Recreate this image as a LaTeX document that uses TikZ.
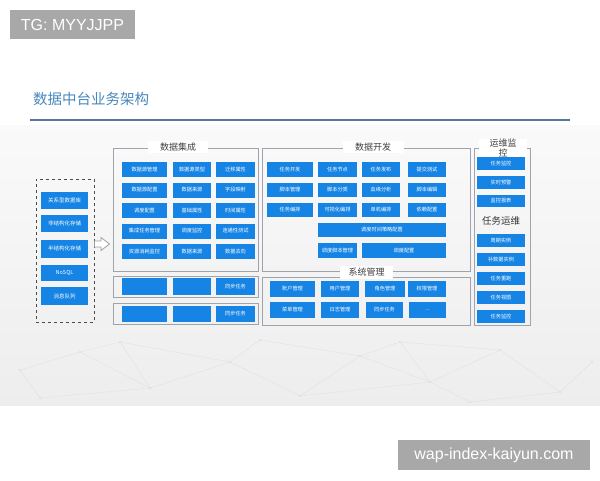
\documentclass[tikz,border=0pt]{standalone}
\usepackage{fontspec}
\setmainfont{Liberation Sans}
\newfontfamily\cjk{Noto Sans CJK SC}
\definecolor{itemblue}{RGB}{22,132,228}
\definecolor{framegray}{RGB}{158,163,172}
\definecolor{titleblue}{RGB}{72,135,188}
\definecolor{ruleblue}{RGB}{85,120,160}
\definecolor{badgegray}{RGB}{168,168,168}
\definecolor{netgray}{RGB}{222,224,228}
\newcommand\bx[6]{\node[item, minimum width=#4, minimum height=#5] (#1) at (#2,#3) {#6};}
\begin{document}
\begin{tikzpicture}[x=1pt,y=-1pt,
  item/.style={fill=itemblue, text=white, inner sep=0pt, font=\cjk\fontsize{5.2}{6}\selectfont},
  frame/.style={draw=framegray, line width=0.8pt, inner sep=0pt},
  sectitle/.style={fill=white, inner sep=0pt, text=black!75, font=\cjk\fontsize{9}{10}\selectfont},
  badge/.style={fill=badgegray, text=white, inner sep=0pt, font=\fontsize{16}{18}\selectfont},
  net/.style={draw=netgray, line width=0.35pt}]
\useasboundingbox (0,0) rectangle (600,480);
\fill[white] (0,0) rectangle (600,480);
% background band
\shade[top color=gray!4, bottom color=gray!14] (0,125) rectangle (600,405);
% faint network texture
\foreach \a/\b in {20/370, 80/352, 150/388, 230/362, 300/396, 360/356, 430/382, 500/350, 560/392, 592/362, 120/342, 400/342, 260/340, 40/398, 470/402}
  \fill[netgray] (\a,\b) circle (1.1);
\draw[net] (20,370)--(80,352)--(150,388)--(230,362)--(300,396)--(360,356)--(430,382)--(500,350)--(560,392)--(592,362);
\draw[net] (80,352)--(120,342)--(230,362)--(260,340)--(360,356)--(400,342)--(500,350);
\draw[net] (40,398)--(150,388) (300,396)--(430,382)--(470,402)--(560,392) (20,370)--(40,398) (120,342)--(150,388) (400,342)--(430,382);

% badges
\node[badge, minimum width=125, minimum height=29] (tg) at (72.5,24.5) {TG: MYYJJPP};
\node[badge, minimum width=192, minimum height=30] (wm) at (494,455) {wap-index-kaiyun.com};

% title
\node[anchor=west, inner sep=0pt, text=titleblue, font=\cjk\fontsize{14.5}{16}\selectfont] (title) at (33,99) {数据中台业务架构};
\coordinate (rl) at (30,120);
\coordinate (rr) at (570,120);
\draw[ruleblue, line width=1.5pt] (rl) -- (rr);

% sources
\node[draw=gray!60!black, dashed, line width=0.7pt, inner sep=0pt, minimum width=58, minimum height=143] (src) at (65,250.5) {};
\node[item, minimum width=47, minimum height=17, font=\cjk\fontsize{5.5}{6}\selectfont] (s1) at (64.5,200.5) {关系型数据库};
\node[item, minimum width=47, minimum height=17, font=\cjk\fontsize{5.5}{6}\selectfont] (s2) at (64.5,223) {非结构化存储};
\node[item, minimum width=47, minimum height=18, font=\cjk\fontsize{5.5}{6}\selectfont] (s3) at (64.5,248.5) {半结构化存储};
\node[item, minimum width=47, minimum height=16, font=\cjk\fontsize{5.5}{6}\selectfont] (s4) at (64.5,272.5) {NoSQL};
\node[item, minimum width=47, minimum height=18, font=\cjk\fontsize{5.5}{6}\selectfont] (s5) at (64.5,296) {消息队列};

% hollow arrow
\draw[draw=gray!75, fill=white, line width=0.8pt] (94.5,241) -- (101,241) -- (101,237.5) -- (109.5,244) -- (101,250.5) -- (101,247) -- (94.5,247) -- cycle;

% 数据集成
\node[frame, minimum width=145, minimum height=123] (jc) at (185.5,209.5) {};
\node[sectitle, minimum width=60, minimum height=12] (jct) at (178,147) {数据集成};
\bx{j11}{144.5}{169.5}{45}{15}{数据源管理}
\bx{j12}{192}{169.5}{38}{15}{数据源类型}
\bx{j13}{235.5}{169.5}{39}{15}{迁移属性}
\bx{j21}{144.5}{190}{45}{15}{数据源配置}
\bx{j22}{192}{190}{38}{15}{数据来源}
\bx{j23}{235.5}{190}{39}{15}{字段映射}
\bx{j31}{144.5}{210.5}{45}{15}{调度配置}
\bx{j32}{192}{210.5}{38}{15}{基础属性}
\bx{j33}{235.5}{210.5}{39}{15}{时间属性}
\bx{j41}{144.5}{231}{45}{15}{集成任务管理}
\bx{j42}{192}{231}{38}{15}{调度监控}
\bx{j43}{235.5}{231}{39}{15}{连通性测试}
\bx{j51}{144.5}{251.5}{45}{15}{资源消耗监控}
\bx{j52}{192}{251.5}{38}{15}{数据来源}
\bx{j53}{235.5}{251.5}{39}{15}{数据去向}

% sync rows
\node[frame, minimum width=145, minimum height=21] (sy1) at (185.5,286.5) {};
\bx{y11}{144.5}{286.5}{45}{17}{}
\bx{y12}{192}{286.5}{38}{17}{}
\bx{y13}{235.5}{286.5}{39}{17}{同步任务}
\node[frame, minimum width=145, minimum height=21] (sy2) at (185.5,313.5) {};
\bx{y21}{144.5}{314}{45}{16}{}
\bx{y22}{192}{314}{38}{16}{}
\bx{y23}{235.5}{314}{39}{16}{同步任务}

% 数据开发
\node[frame, minimum width=208, minimum height=123] (kf) at (366,209.5) {};
\node[sectitle, minimum width=61, minimum height=12] (kft) at (373,147) {数据开发};
\bx{k11}{290}{169.5}{46}{15}{任务开发}
\bx{k12}{337.5}{169.5}{39}{15}{任务节点}
\bx{k13}{381}{169.5}{38}{15}{任务发布}
\bx{k14}{427}{169.5}{38}{15}{提交测试}
\bx{k21}{290}{190}{46}{14}{脚本管理}
\bx{k22}{337.5}{190}{39}{14}{脚本分类}
\bx{k23}{381}{190}{38}{14}{血缘分析}
\bx{k24}{427}{190}{38}{14}{脚本编辑}
\bx{k31}{290}{210}{46}{14}{任务编排}
\bx{k32}{337.5}{210}{39}{14}{可视化编排}
\bx{k33}{381}{210}{38}{14}{单机编排}
\bx{k34}{427}{210}{38}{14}{依赖配置}
\bx{k4}{382}{230}{128}{14}{调度时间策略配置}
\bx{k51}{337.5}{250.5}{39}{15}{调度脚本管理}
\bx{k52}{404}{250.5}{84}{15}{调度配置}

% 系统管理
\node[frame, minimum width=208, minimum height=48] (xt) at (366,301) {};
\node[sectitle, minimum width=53, minimum height=13] (xtt) at (366.5,272) {系统管理};
\bx{x11}{292.5}{289}{45}{16}{账户管理}
\bx{x12}{340}{289}{38}{16}{用户管理}
\bx{x13}{385}{289}{40}{16}{角色管理}
\bx{x14}{427}{289}{38}{16}{权限管理}
\bx{x21}{292.5}{310}{45}{16}{菜单管理}
\bx{x22}{340}{310}{38}{16}{日志管理}
\bx{x23}{384.5}{310}{37}{16}{同步任务}
\bx{x24}{427.5}{310}{37}{16}{...}

% 运维监控
\node[frame, minimum width=56, minimum height=177] (yw) at (502,236.5) {};
\node[sectitle, minimum width=48, align=center, font=\cjk\fontsize{9}{10}\selectfont] (ywt) at (503,148) {运维监\\控};
\bx{w1}{501}{163.5}{48}{13}{任务监控}
\bx{w2}{501}{182.5}{48}{13}{实时预警}
\bx{w3}{501}{201}{48}{12}{监控报表}
\node[inner sep=0pt, text=black!80, font=\cjk\fontsize{9.5}{10}\selectfont] (ywm) at (501,221) {任务运维};
\bx{w4}{501}{240.5}{48}{13}{周期实例}
\bx{w5}{501}{259.5}{48}{13}{补数据实例}
\bx{w6}{501}{278.5}{48}{13}{任务重跑}
\bx{w7}{501}{297.5}{48}{13}{任务视图}
\bx{w8}{501}{316.5}{48}{13}{任务监控}
\end{tikzpicture}
\end{document}
